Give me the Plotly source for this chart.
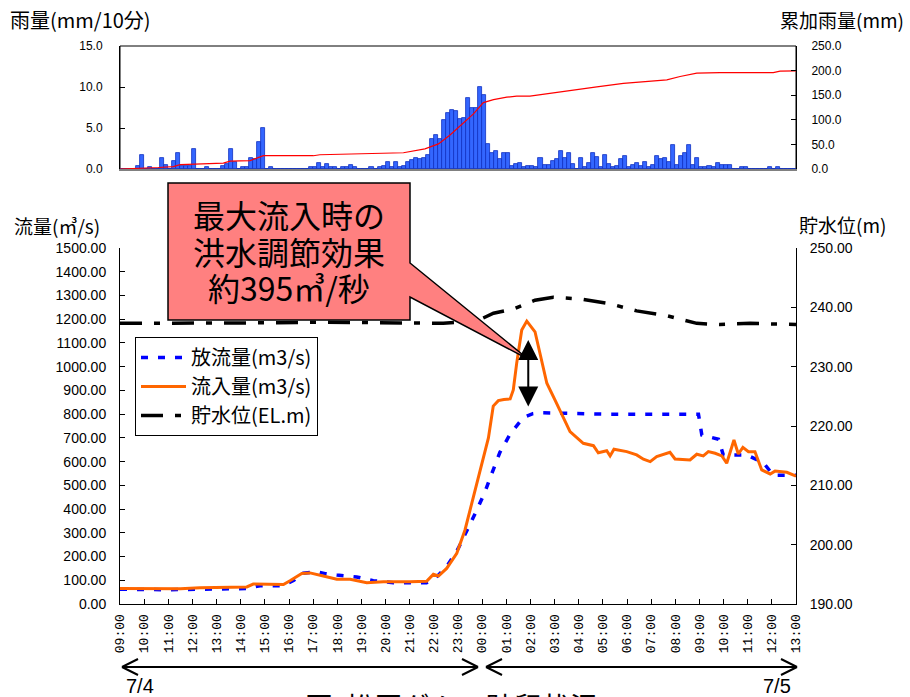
import plotly.graph_objects as go

W, H = 910, 697

def px(x):
    return x / W

def py(y):
    return 1 - y / H

# ---------------- data ----------------
time_labels = ["09:00", "10:00", "11:00", "12:00", "13:00", "14:00", "15:00", "16:00",
               "17:00", "18:00", "19:00", "20:00", "21:00", "22:00", "23:00", "00:00",
               "01:00", "02:00", "03:00", "04:00", "05:00", "06:00", "07:00", "08:00",
               "09:00", "10:00", "11:00", "12:00", "13:00"]
time_ticks_h = list(range(len(time_labels)))

# 10-minute rainfall (mm/10min), 168 intervals from 7/4 09:00
rain_10min = [
    0, 0, 0, 0, 0.4, 1.75, 0, 0.2, 0, 0, 1.4, 0.5,
    0, 1.0, 1.9, 0.4, 0.4, 0.4, 2.5, 0, 0, 0.2, 0, 0,
    0, 0.4, 0.6, 2.5, 0.8, 0, 0.2, 0.2, 1.4, 1.2, 3.3, 5.0,
    0, 0.2, 0, 0, 0, 0, 0, 0, 0, 0, 0, 0.2,
    0.2, 0.75, 0.2, 0.6, 0.2, 0.2, 0, 0.2, 0.2, 0.5, 0.2, 0,
    0, 0, 0.2, 0, 0.2, 0.4, 0.9, 0.3, 0.9, 0.2, 0.4, 0.8,
    1.1, 1.4, 1.25, 1.4, 1.7, 3.6, 4.1, 3.6, 6.0, 6.8, 7.2, 7.1,
    6.1, 6.25, 8.7, 7.4, 7.4, 10.0, 9.0, 3.1, 1.9, 2.2, 1.2, 1.9,
    1.9, 0.4, 0.6, 0.75, 0.2, 0.4, 0.4, 0.2, 1.3, 0.5, 0.5, 1.0,
    1.2, 2.2, 1.3, 1.9, 0.6, 0, 1.3, 0.2, 0.75, 2.0, 1.5, 0.2,
    1.75, 0.6, 0.2, 0.4, 1.2, 1.6, 0.2, 0.5, 0.75, 0.4, 0.9, 0.2,
    0.5, 1.6, 1.25, 1.4, 0.9, 2.9, 0.5, 1.6, 2.0, 2.9, 0.5, 1.3,
    0.2, 0.2, 0.4, 0.2, 0.75, 0.5, 0.5, 0.5, 0, 0, 0.2, 0.2,
    0, 0, 0, 0, 0, 0.2, 0, 0.2, 0, 0, 0, 0,
]
rain_x_h = [(i + 0.5) / 6 for i in range(len(rain_10min))]

# cumulative rainfall (mm)
cum_h = [0, 0.76, 1.59, 2.21, 2.49, 3.11, 4.28, 4.56, 5.39, 5.94, 8.01, 8.28, 9.53,
         11.74, 12.63, 13.19, 13.67, 14.08, 14.64, 15.05, 15.47, 16.02, 16.43, 16.98,
         17.95, 18.78, 19.75, 20.85, 21.82, 22.65, 23.2, 23.89, 24.85, 27.06, 27.34, 28.0]
cum_mm = [0, 1, 3, 5, 9, 10, 12, 16, 17, 27, 27, 29, 31,
          33, 41, 51, 69, 87, 112, 135, 141, 146, 148, 148,
          155, 160, 167, 174, 177, 181, 188, 195, 196, 196, 199, 199.5]

# outflow (m3/s)
out_h = [0, 1.0, 2.0, 3.3, 4.5, 5.25, 5.8, 6.77, 7.2, 7.59, 8.15, 8.5, 8.98, 9.8,
         10.49, 11.32, 12.7, 12.98, 13.53, 14.01, 14.78, 15.12, 15.4, 15.74, 16.16,
         16.71, 17.1, 17.4, 20.0, 23.96, 24.1, 24.79, 24.99, 25.96, 26.65, 27.06, 28.0]
out_q = [62, 60, 60, 62, 62, 65, 77, 77, 100, 130, 136, 128, 122, 114,
         98, 90, 90, 101, 157, 234, 396, 473, 550, 640, 716,
         786, 802, 806, 800, 800, 712, 694, 628, 628, 595, 543, 543]

# inflow (m3/s)
in_h = [0, 1.0, 1.93, 2.5, 3.31, 4.5, 5.25, 5.52, 6.2, 6.77, 7.04, 7.53, 7.87, 8.15,
        8.42, 8.98, 9.53, 10.22, 10.91, 12.01, 12.7, 12.98, 13.19, 13.53, 13.95, 14.29,
        14.64, 14.98, 15.12, 15.26, 15.46, 15.67, 15.9, 16.16, 16.29, 16.43, 16.64,
        16.85, 17.19, 17.47, 17.68, 18.02, 18.36, 18.64, 19.19, 19.61, 19.81, 20.16,
        20.3, 20.46, 20.99, 21.4, 21.68, 21.96, 22.23, 22.78, 22.99, 23.61, 23.89,
        24.16, 24.37, 24.65, 24.93, 25.13, 25.43, 25.61, 25.8, 26.03, 26.3, 26.58,
        26.93, 27.13, 27.62, 28.0]
in_q = [65, 64, 62, 64, 68, 70, 72, 84, 82, 82, 98, 129, 131, 126,
        118, 104, 104, 90, 94, 94, 96, 125, 118, 150, 214, 312,
        450, 578, 640, 700, 834, 857, 862, 864, 902, 1014, 1154,
        1192, 1147, 1028, 930, 859, 789, 726, 677, 667, 637, 646,
        624, 652, 642, 628, 610, 600, 621, 639, 611, 607, 631,
        624, 642, 635, 624, 593, 691, 632, 660, 642, 642, 565,
        548, 560, 555, 539]

# reservoir level (EL.m)
lvl_h = [0, 4.0, 6.5, 8.5, 10.5, 13.0, 13.39, 14.78, 15.47, 16.29, 17.19, 17.95,
         19.06, 20.3, 21.4, 22.65, 23.89, 24.85, 26.1, 28.0]
lvl_m = [237.3, 237.3, 237.4, 237.5, 237.4, 237.3, 237.3, 237.7, 239.0, 239.7, 241.2,
         241.7, 241.4, 240.6, 239.4, 238.6, 237.3, 237.1, 237.3, 237.1]

# flood control arrow (peak inflow vs outflow)
arrow_h = 16.91
arrow_top_q = 1112
arrow_bot_q = 826

callout_lines = ["最大流入時の", "洪水調節効果", "約395㎥/秒"]

# ---------------- figure ----------------
CJK = "Noto Sans CJK JP"
NUM = "Liberation Sans"

fig = go.Figure()

fig.add_trace(go.Bar(
    x=rain_x_h, y=rain_10min, width=1 / 6, xaxis="x", yaxis="y",
    marker=dict(color="#3366FF", line=dict(color="#1030C0", width=0.8)),
    showlegend=False, hoverinfo="skip"))
fig.add_trace(go.Scatter(
    x=cum_h, y=cum_mm, xaxis="x", yaxis="y2", mode="lines",
    line=dict(color="#FF0000", width=1.2), showlegend=False))

fig.add_trace(go.Scatter(
    x=out_h, y=out_q, xaxis="x2", yaxis="y3", mode="lines", name="放流量(m3/s)",
    line=dict(color="#0000FF", width=3.5, dash="7px,10px")))
fig.add_trace(go.Scatter(
    x=in_h, y=in_q, xaxis="x2", yaxis="y3", mode="lines", name="流入量(m3/s)",
    line=dict(color="#FF6600", width=3)))
fig.add_trace(go.Scatter(
    x=lvl_h, y=lvl_m, xaxis="x2", yaxis="y4", mode="lines", name="貯水位(EL.m)",
    line=dict(color="#000000", width=3.5, dash="22px,12px,6px,12px")))

xdom = [px(120), px(796)]
top_dom = [py(169), py(46)]
bot_dom = [py(604), py(248)]

ax_common = dict(showgrid=False, zeroline=False, ticks="inside", ticklen=5,
                 tickcolor="black", showline=True, linecolor="black", linewidth=1,
                 automargin=False)

fig.update_layout(
    template="none",
    width=W, height=H, margin=dict(l=0, r=0, t=0, b=0, pad=0),
    paper_bgcolor="white", plot_bgcolor="white",
    bargap=0,
    xaxis=dict(domain=xdom, anchor="y", range=[0, 28], showticklabels=False,
               showgrid=False, zeroline=False, showline=True, linecolor="#808080",
               linewidth=2, ticks="", automargin=False),
    yaxis=dict(domain=top_dom, anchor="x", range=[0, 15], tickvals=[0, 5, 10, 15],
               tickformat=".1f", ticklabelstandoff=14,
               tickfont=dict(family=NUM, size=12, color="black"), **ax_common),
    yaxis2=dict(overlaying="y", anchor="x", side="right", range=[0, 250],
                tickvals=[0, 50, 100, 150, 200, 250], tickformat=".1f",
                ticklabelstandoff=12,
                tickfont=dict(family=NUM, size=12, color="black"), **ax_common),
    xaxis2=dict(domain=xdom, anchor="y3", range=[0, 28], tickvals=time_ticks_h,
                ticktext=time_labels, tickangle=-90, ticklabelstandoff=4,
                tickfont=dict(family="Liberation Mono", size=13, color="black"),
                **ax_common),
    yaxis3=dict(domain=bot_dom, anchor="x2", range=[0, 1500], dtick=100,
                tickformat=".2f", ticklabelstandoff=10,
                tickfont=dict(family=NUM, size=14, color="black"), **ax_common),
    yaxis4=dict(overlaying="y3", anchor="x2", side="right", range=[190, 250],
                dtick=10, tickformat=".2f", ticklabelstandoff=10,
                tickfont=dict(family=NUM, size=14, color="black"), **ax_common),
    legend=dict(x=px(135), y=py(337), xanchor="left", yanchor="top",
                bgcolor="white", bordercolor="black", borderwidth=1,
                font=dict(family=CJK, size=20, color="black"),
                itemwidth=45, tracegroupgap=0),
)

shapes = []
# top chart frame
shapes.append(dict(type="rect", xref="paper", yref="paper",
                   x0=px(120), x1=px(796), y0=py(169), y1=py(46),
                   line=dict(color="black", width=1), layer="below"))
# callout box with pointer
pts = [(168, 183), (410, 183), (410, 263), (528, 359), (410, 297), (410, 320), (168, 320)]
path = "M " + " L ".join(f"{px(a):.5f},{py(b):.5f}" for a, b in pts) + " Z"
shapes.append(dict(type="path", xref="paper", yref="paper", path=path,
                   fillcolor="#FF8080", line=dict(color="black", width=1.5),
                   layer="above"))

# date span arrows below the axis
ya = 667
def seg(x0, y0, x1, y1):
    return dict(type="line", xref="paper", yref="paper",
                x0=px(x0), y0=py(y0), x1=px(x1), y1=py(y1),
                line=dict(color="black", width=2))
for (a, b) in [(122, 478), (486, 797)]:
    shapes.append(seg(a, ya, b, ya))
    shapes.append(seg(a, ya, a + 16, ya - 8))
    shapes.append(seg(a, ya, a + 16, ya + 8))
    shapes.append(seg(b, ya, b - 16, ya - 8))
    shapes.append(seg(b, ya, b - 16, ya + 8))
fig.update_layout(shapes=shapes)

ann = []
def label(x, y, text, size, family=CJK, xanchor="center", yanchor="middle"):
    ann.append(dict(xref="paper", yref="paper", x=px(x), y=py(y), text=text,
                    showarrow=False, xanchor=xanchor, yanchor=yanchor,
                    font=dict(family=family, size=size, color="black")))

label(8, 20, "雨量(mm/10分)", 20, xanchor="left")
label(906, 20, "累加雨量(mm)", 19, xanchor="right")
label(12, 226, "流量(㎥/s)", 19, xanchor="left")
label(888, 225, "貯水位(m)", 19, xanchor="right")
label(140, 686, "7/4", 20, family=NUM)
label(777, 686, "7/5", 20, family=NUM)
label(451, 684, "図  松原ダムの貯留状況", 28, yanchor="top")

for i, t in enumerate(callout_lines):
    label(289, 214 + 36.5 * i, t, 32)

ann.append(dict(xref="x2", yref="y3", x=arrow_h, y=arrow_top_q,
                axref="x2", ayref="y3", ax=arrow_h, ay=arrow_bot_q,
                text="", showarrow=True, arrowhead=2, arrowside="end+start",
                arrowsize=2, arrowwidth=2, arrowcolor="black"))
fig.update_layout(annotations=ann)

fig.write_html("out.html",
               config={"displayModeBar": False},
               post_script="document.body.style.margin='0';"
                           "document.body.style.overflow='hidden';")
